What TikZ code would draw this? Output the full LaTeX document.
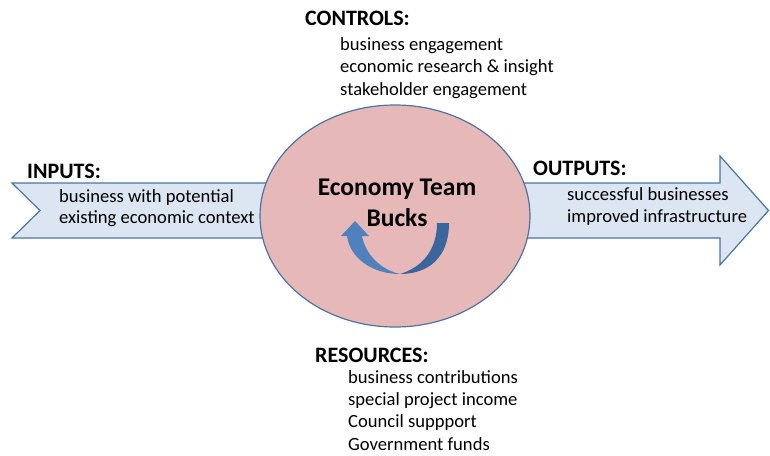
\documentclass[tikz,border=0pt]{standalone}
\usepackage{fontspec}
\setmainfont{Carlito}
\usetikzlibrary{shapes.geometric}
\begin{document}
\begin{tikzpicture}[x=1pt,y=-1pt,
  band/.style={draw=edgeblue,fill=bandfill,line width=1.2pt,line join=miter},
  body/.style={inner sep=0pt,anchor=base west,font=\fontsize{18.6}{21}\selectfont},
  title/.style={inner sep=0pt,anchor=base west,font=\fontsize{22}{25}\selectfont\bfseries},
  centre/.style={inner sep=0pt,anchor=base,font=\fontsize{25.5}{28}\selectfont\bfseries}]
\definecolor{edgeblue}{HTML}{4A73A8}
\definecolor{bandfill}{HTML}{DCE6F2}
\definecolor{ovalfill}{HTML}{E6B9B8}
\definecolor{arrowblue}{HTML}{4F81BD}
\definecolor{arrowdark}{HTML}{3A669E}
\useasboundingbox (0,0) rectangle (770,455);
% input band
\draw[band] (12,183) -- (272,183) -- (272,238) -- (12,238) -- (40,210.5) -- cycle;
% output band
\draw[band] (518,183) -- (720,183) -- (720,156) -- (768.5,210.5) -- (720,265) -- (720,238) -- (518,238) -- cycle;
% central ellipse
\node[ellipse,draw=edgeblue,fill=ovalfill,line width=1.2pt,minimum width=270pt,minimum height=222pt,inner sep=0pt] (oval) at (395,216) {};
% circular arrow
\fill[arrowdark] (449,223) .. controls (449,258) and (428,274) .. (400,274)
  .. controls (420,268) and (437,252) .. (437,223) -- cycle;
\fill[arrowblue] (400,274) .. controls (372,274) and (350,258) .. (347,236)
  -- (341,236) -- (355,221) -- (369,236) -- (362,236)
  .. controls (366,256) and (382,270) .. (400,274) -- cycle;
% texts
\node[centre] (t1) at (397,195) {Economy Team};
\node[centre] (t2) at (397,226) {Bucks};
\node[title] (ctl) at (305,25) {CONTROLS:};
\node[body] (c1) at (340,50) {business engagement};
\node[body] (c2) at (340,72.5) {economic research \& insight};
\node[body] (c3) at (340,95) {stakeholder engagement};
\node[title] (inp) at (27,178) {INPUTS:};
\node[body] (i1) at (59,202) {business with potential};
\node[body] (i2) at (59,223) {existing economic context};
\node[title] (outp) at (533,175) {OUTPUTS:};
\node[body] (o1) at (567,200.5) {successful businesses};
\node[body] (o2) at (567,222) {improved infrastructure};
\node[title] (res) at (315,362) {RESOURCES:};
\node[body] (r1) at (348,383) {business contributions};
\node[body] (r2) at (348,405) {special project income};
\node[body] (r3) at (348,427.5) {Council suppport};
\node[body] (r4) at (348,450) {Government funds};
\end{tikzpicture}
\end{document}
